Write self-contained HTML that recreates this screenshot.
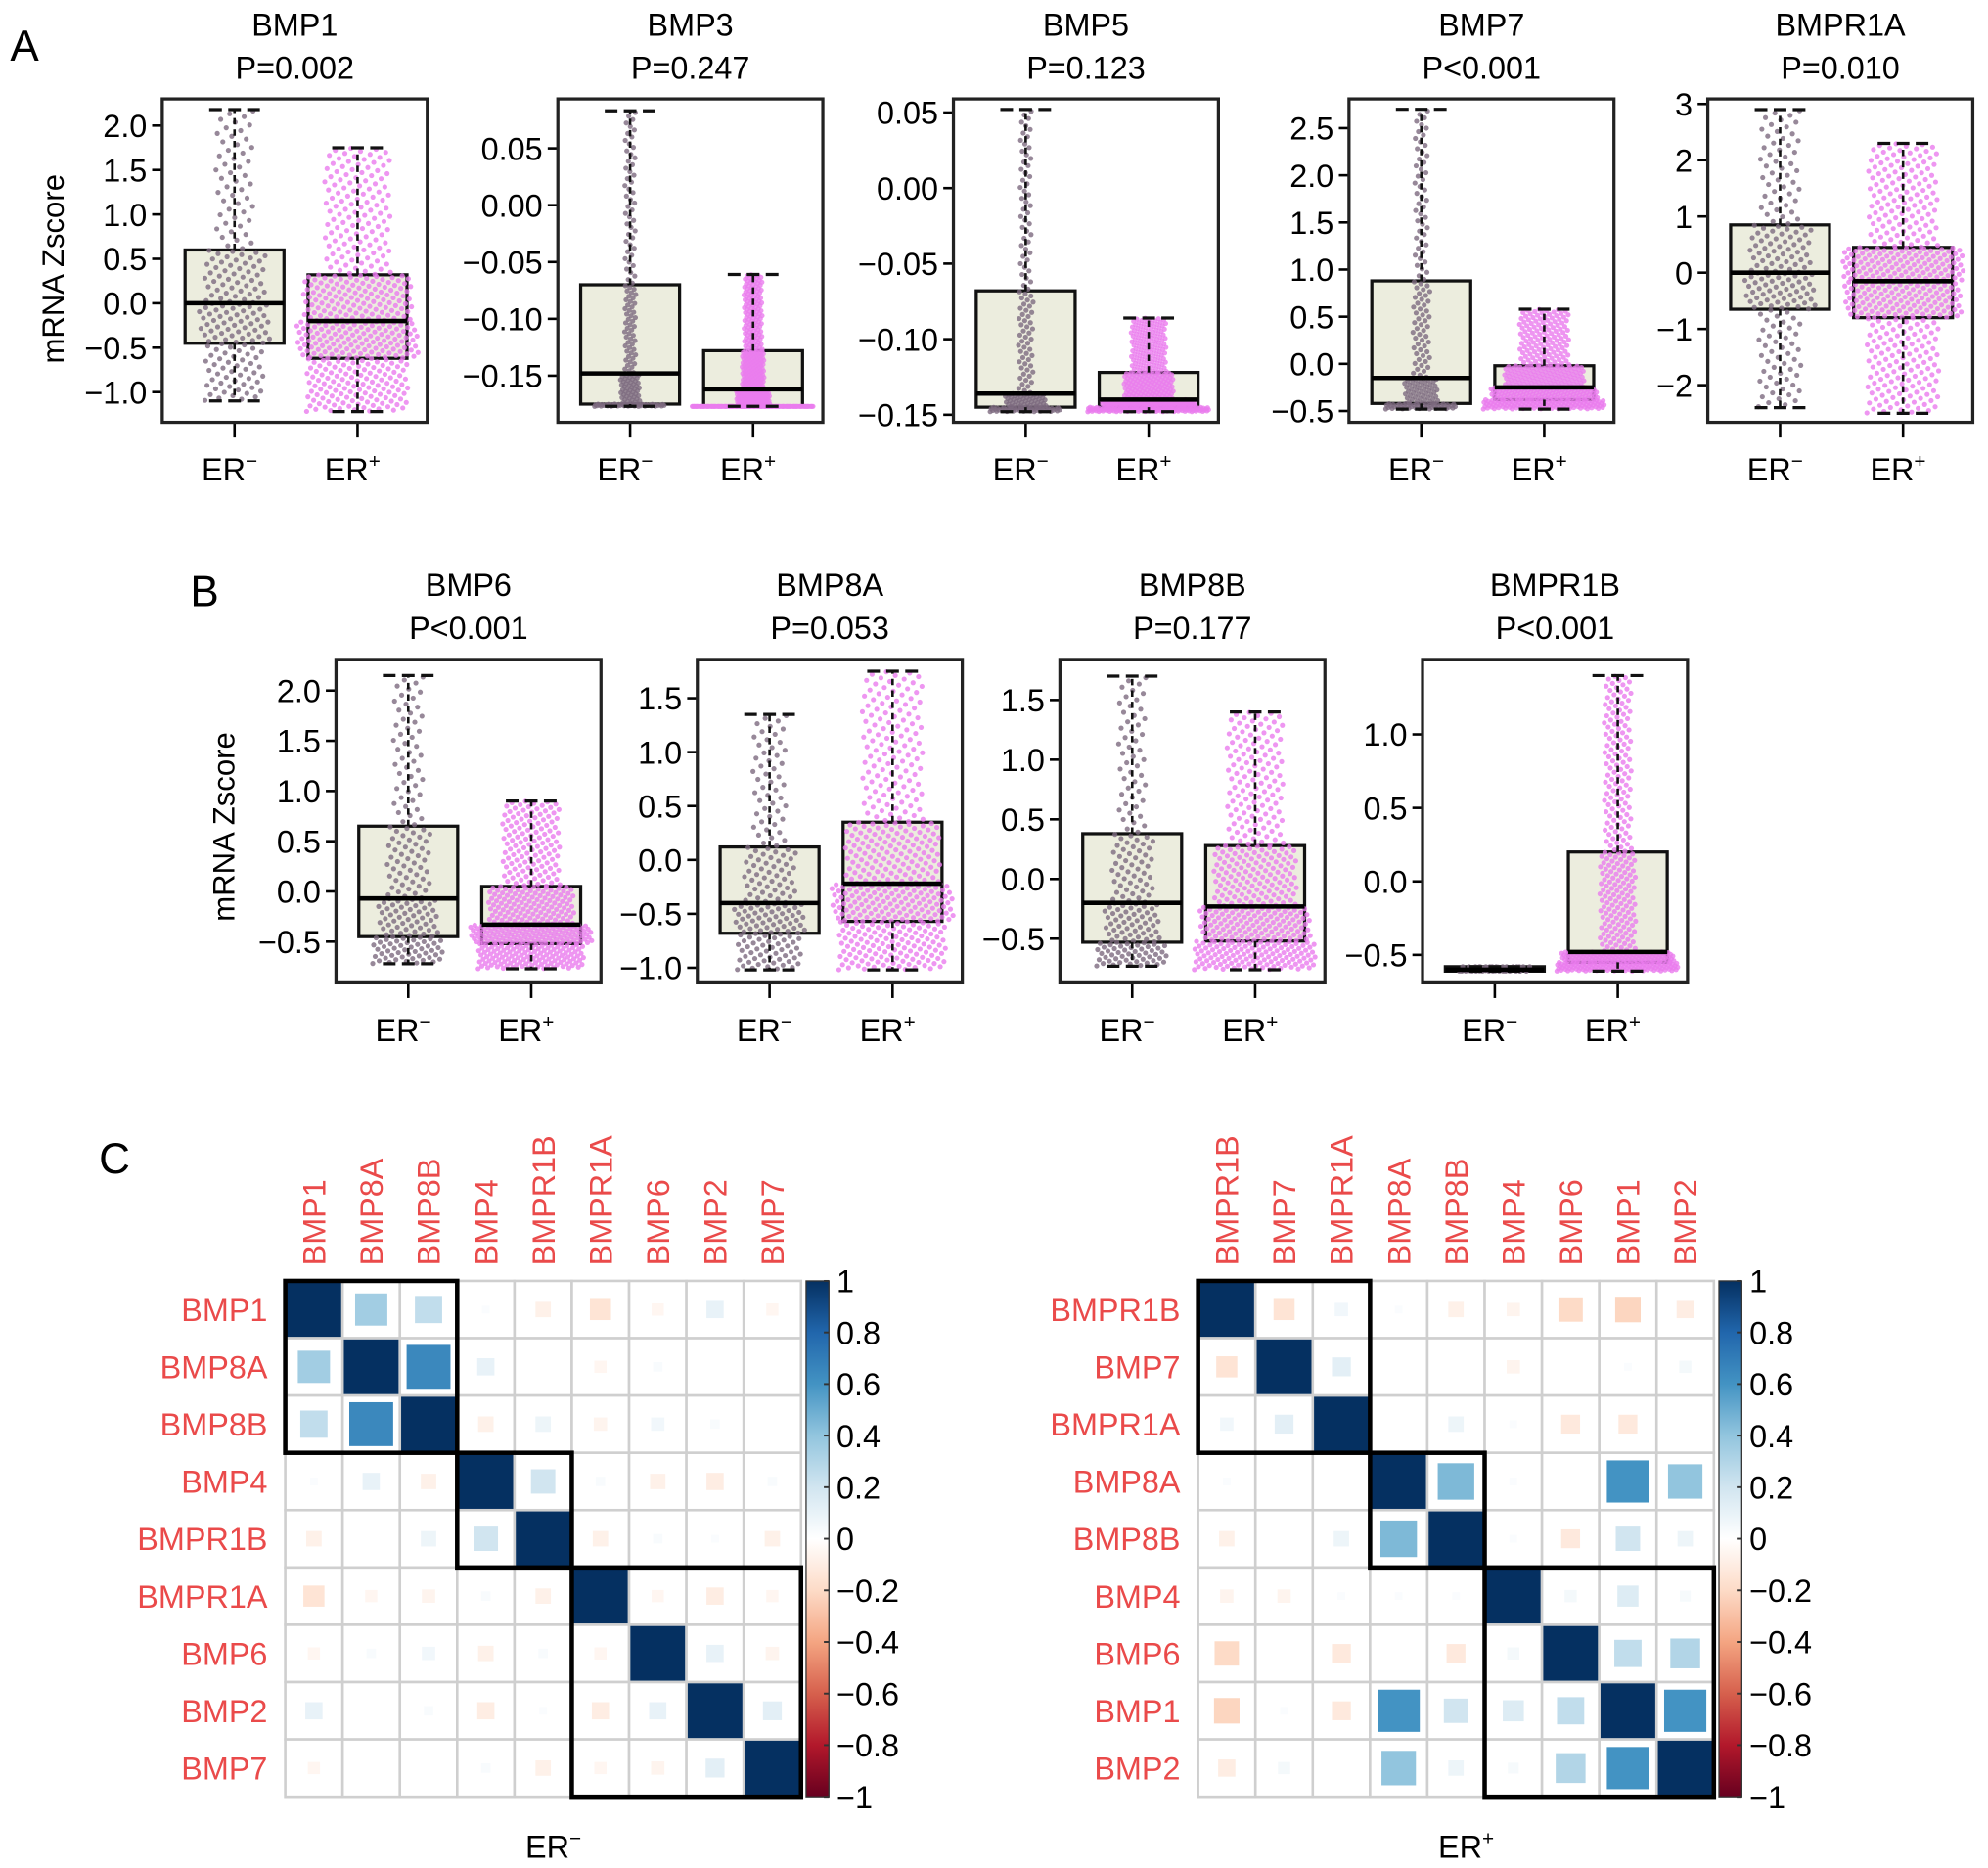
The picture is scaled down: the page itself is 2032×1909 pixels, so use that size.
<!DOCTYPE html>
<html><head><meta charset="utf-8"><style>
html,body{margin:0;padding:0;background:#fff;}
svg{display:block;font-family:"Liberation Sans",sans-serif;}
</style></head><body>
<svg id="fig" width="2032" height="1909" viewBox="0 0 1568 1473" preserveAspectRatio="none" xmlns="http://www.w3.org/2000/svg">
<rect x="0" y="0" width="1568" height="1473" fill="#fff"/>
<text x="8" y="48" font-size="34">A</text>
<text x="150" y="478" font-size="34">B</text>
<text x="78" y="925" font-size="34">C</text>
<text transform="translate(50,212) rotate(-90)" text-anchor="middle" font-size="24">mRNA Zscore</text>
<text transform="translate(185,652) rotate(-90)" text-anchor="middle" font-size="24">mRNA Zscore</text>
<g id="plots"></g>
<g id="heat"></g>
</svg>
<script>
// ---------- Box plot data ----------
const boxGenes = ["BMP1","BMP3","BMP5","BMP7","BMPR1A","BMP6","BMP8A","BMP8B","BMPR1B"];
const boxPvals = ["P=0.002","P=0.247","P=0.123","P<0.001","P=0.010","P<0.001","P=0.053","P=0.177","P<0.001"];
// [lowWhisker, q1, median, q3, highWhisker]
const erNegStats = [
  [-1.1,-0.45,0.0,0.6,2.18],
  [-0.177,-0.175,-0.148,-0.07,0.083],
  [-0.148,-0.145,-0.136,-0.068,0.052],
  [-0.48,-0.42,-0.15,0.88,2.7],
  [-2.4,-0.65,0.0,0.85,2.9],
  [-0.72,-0.45,-0.07,0.65,2.15],
  [-1.02,-0.68,-0.4,0.12,1.35],
  [-0.73,-0.53,-0.2,0.38,1.7],
  [-0.61,-0.61,-0.6,-0.58,-0.58]
];
const erPosStats = [
  [-1.22,-0.62,-0.2,0.32,1.75],
  [-0.177,-0.177,-0.162,-0.128,-0.061],
  [-0.148,-0.145,-0.14,-0.122,-0.086],
  [-0.48,-0.38,-0.25,-0.02,0.58],
  [-2.5,-0.8,-0.15,0.45,2.3],
  [-0.77,-0.52,-0.33,0.05,0.9],
  [-1.02,-0.57,-0.22,0.35,1.75],
  [-0.76,-0.52,-0.23,0.28,1.4],
  [-0.61,-0.55,-0.48,0.2,1.4]
];
const yDomainMin = [-1.34,-0.191,-0.155,-0.62,-2.66,-0.91,-1.14,-0.87,-0.69];
const yDomainMax = [2.3,0.0935,0.059,2.81,3.09,2.31,1.86,1.84,1.51];
const yTicks = [
  [-1.0,-0.5,0.0,0.5,1.0,1.5,2.0],
  [-0.15,-0.10,-0.05,0.00,0.05],
  [-0.15,-0.10,-0.05,0.00,0.05],
  [-0.5,0.0,0.5,1.0,1.5,2.0,2.5],
  [-2,-1,0,1,2,3],
  [-0.5,0.0,0.5,1.0,1.5,2.0],
  [-1.0,-0.5,0.0,0.5,1.0,1.5],
  [-0.5,0.0,0.5,1.0,1.5],
  [-0.5,0.0,0.5,1.0]
];
const tickDecimals = [1,2,2,1,0,1,1,1,1];
const pointCounts = [[200,500],[200,500],[200,500],[200,500],[200,500],[200,500],[200,500],[200,500],[60,500]];

// layout
const frameX = [128,440,752,1064,1347,265,550,836,1122];
const frameTop = [78,78,78,78,78,520,520,520,520];
const frameW = 209, frameH = 255;

const NS = "http://www.w3.org/2000/svg";
function mk(tag, attrs, parent){const e=document.createElementNS(NS,tag);for(const k in attrs)e.setAttribute(k,attrs[k]);parent.appendChild(e);return e;}
const plots = document.getElementById('plots');

function quantVal(st,p){const ps=[0,0.25,0.5,0.75,1];for(let i=0;i<4;i++){if(p<=ps[i+1]){const t=(p-ps[i])/(ps[i+1]-ps[i]);return [st[i]+t*(st[i+1]-st[i]),i];}}return [st[4],3];}

boxGenes.forEach((g,k)=>{
  const fx=frameX[k], ft=frameTop[k];
  const y = v => ft + (yDomainMax[k]-v)/(yDomainMax[k]-yDomainMin[k])*frameH;
  const grp = mk('g',{},plots);
  
  
  const cx = fx+frameW/2;
  const t1 = mk('text',{x:cx,y:ft-50,'text-anchor':'middle','font-size':25},grp); t1.textContent=g;
   
  const t2 = mk('text',{x:cx,y:ft-16,'text-anchor':'middle','font-size':25},grp); t2.textContent=boxPvals[k];
   
  yTicks[k].forEach(v=>{
    const yy=y(v);
    mk('line',{x1:fx-8,x2:fx,y1:yy,y2:yy,stroke:'#000','stroke-width':2},grp);
    const tl=mk('text',{x:fx-12,y:yy+9,'text-anchor':'end','font-size':25},grp);
    tl.textContent=(v<0?'\u2212':'')+Math.abs(v).toFixed(tickDecimals[k]);
     
  });
  const centers=[fx+57,fx+154];
  const stats=[erNegStats[k],erPosStats[k]];
  const colors=['#7d6a80','#ea7ced'];
  stats.forEach((st,j)=>{
    const c=centers[j];
    const bw=78;
    const b=mk('rect',{x:c-bw/2,y:y(st[3]),width:bw,height:Math.max(1,y(st[1])-y(st[3])),fill:'#ecedde',stroke:'#111','stroke-width':2.5},grp);
     
    // density-scaled widths per quartile segment (pixel span based)
    const spans=[0,1,2,3].map(i=>Math.max(1,y(st[i])-y(st[i+1])));
    const minSpan=Math.min(...spans);
    const n=pointCounts[k][j];
    for(let i=0;i<n;i++){
      const p=(i+0.5)/n;
      const qv=quantVal(st,p);
      const dens=Math.sqrt(minSpan/spans[qv[1]]);
      const jit=((i*0.6180339887)%1)-0.5;
      const w=(j?96:56)*Math.max(0.15,dens);
      mk('circle',{cx:c+jit*w,cy:y(qv[0]),r:2,fill:colors[j],opacity:0.8},grp);
    }
    mk('line',{x1:c,x2:c,y1:y(st[3]),y2:y(st[4]),stroke:'#111','stroke-width':2,'stroke-dasharray':'5,4'},grp);
    mk('line',{x1:c,x2:c,y1:y(st[1]),y2:y(st[0]),stroke:'#111','stroke-width':2,'stroke-dasharray':'5,4'},grp);
    mk('line',{x1:c-20,x2:c+20,y1:y(st[4]),y2:y(st[4]),stroke:'#111','stroke-width':2.5,'stroke-dasharray':'10,5'},grp);
    mk('line',{x1:c-20,x2:c+20,y1:y(st[0]),y2:y(st[0]),stroke:'#111','stroke-width':2.5,'stroke-dasharray':'10,5'},grp);
    mk('line',{x1:c-bw/2,x2:c+bw/2,y1:y(st[2]),y2:y(st[2]),stroke:'#000','stroke-width':3.5},grp);
    mk('line',{x1:c,x2:c,y1:ft+frameH,y2:ft+frameH+12,stroke:'#000','stroke-width':2},grp);
    const xl=mk('text',{x:c-4,y:ft+frameH+46,'text-anchor':'middle','font-size':25},grp);
    xl.innerHTML='ER<tspan dy="-10" font-size="16">'+(j?'+':'\u2212')+'</tspan>';
     
  });
  const fr=mk('rect',{x:fx,y:ft,width:frameW,height:frameH,fill:'none',stroke:'#222','stroke-width':2.5},grp);
   
});

// ---------- Correlation heatmaps ----------
const leftGenes = ["BMP1","BMP8A","BMP8B","BMP4","BMPR1B","BMPR1A","BMP6","BMP2","BMP7"];
const leftCorr = [
  [1,0.35,0.25,0.02,-0.08,-0.15,-0.05,0.1,-0.05],
  [0.35,1,0.65,0.1,0,-0.05,0.03,0,0],
  [0.25,0.65,1,-0.08,0.08,-0.06,0.06,0.03,0],
  [0.02,0.1,-0.08,1,0.2,0.03,-0.08,-0.1,0.03],
  [-0.08,0,0.08,0.2,1,-0.08,0.03,0.02,-0.08],
  [-0.15,-0.05,-0.06,0.03,-0.08,1,-0.05,-0.1,-0.05],
  [-0.05,0.03,0.06,-0.08,0.03,-0.05,1,0.1,-0.06],
  [0.1,0,0.03,-0.1,0.02,-0.1,0.1,1,0.12],
  [-0.05,0,0,0.03,-0.08,-0.05,-0.06,0.12,1]
];
const leftClusters = [[0,2],[3,4],[5,8]];
const rightGenes = ["BMPR1B","BMP7","BMPR1A","BMP8A","BMP8B","BMP4","BMP6","BMP1","BMP2"];
const rightCorr = [
  [1,-0.15,0.06,0.02,-0.08,-0.06,-0.2,-0.22,-0.1],
  [-0.15,1,0.12,0,0,-0.06,0,0.02,0.05],
  [0.06,0.12,1,0,0.08,0.02,-0.12,-0.12,0],
  [0.02,0,0,1,0.45,0.02,0,0.6,0.4],
  [-0.08,0,0.08,0.45,1,0.02,-0.12,0.2,0.08],
  [-0.06,-0.06,0.02,0.02,0.02,1,0.05,0.15,0.04],
  [-0.2,0,-0.12,0,-0.12,0.05,1,0.25,0.3],
  [-0.22,0.02,-0.12,0.6,0.2,0.15,0.25,1,0.6],
  [-0.1,0.05,0,0.4,0.08,0.04,0.3,0.6,1]
];
const rightClusters = [[0,2],[3,4],[5,8]];
const cbTicks = [1,0.8,0.6,0.4,0.2,0,-0.2,-0.4,-0.6,-0.8,-1];
const rdbu = ['#67001f','#b2182b','#d6604d','#f4a582','#fddbc7','#ffffff','#d1e5f0','#92c5de','#4393c3','#2166ac','#053061'];

function colorOf(v){
  const t=(v+1)/2*10; const i=Math.min(9,Math.floor(t)); const f=t-i;
  const a=rdbu[i], b=rdbu[i+1];
  const h=(s,o)=>parseInt(s.substr(o,2),16);
  const c=[1,3,5].map(o=>Math.round(h(a,o)+(h(b,o)-h(a,o))*f));
  return 'rgb('+c.join(',')+')';
}
const heat=document.getElementById('heat');
function drawHeat(genes,corr,clusters,gx,label,name){
  const gy=1010, cell=45.2, n=genes.length;
  const g=mk('g',{},heat);
   
  for(let r=0;r<n;r++)for(let c=0;c<n;c++){
    const v=corr[r][c];
    const x0=gx+c*cell, y0=gy+r*cell;
    mk('rect',{x:x0,y:y0,width:cell,height:cell,fill:'#fff',stroke:'#cfcfcf','stroke-width':2},g);
    const s=(r===c)?cell-2:Math.sqrt(Math.abs(v))*cell*0.95;
    const sq=mk('rect',{x:x0+(cell-s)/2,y:y0+(cell-s)/2,width:s,height:s,fill:colorOf(v)},g);
     
  }
  clusters.forEach(cl=>{
    mk('rect',{x:gx+cl[0]*cell,y:gy+cl[0]*cell,width:(cl[1]-cl[0]+1)*cell,height:(cl[1]-cl[0]+1)*cell,fill:'none',stroke:'#000','stroke-width':3.5},g);
  });
  genes.forEach((nm,i)=>{
    const rl=mk('text',{x:gx-14,y:gy+i*cell+cell/2+9,'text-anchor':'end','font-size':25,fill:'#ea4a4a'},g);
    rl.textContent=nm;  
    const cx=gx+i*cell+cell/2+9;
    const cl=mk('text',{x:0,y:0,transform:'translate('+cx+','+(gy-12)+') rotate(-90)','font-size':25,fill:'#ea4a4a'},g);
    cl.textContent=nm;  
  });
  const bx=gx+n*cell+4, bw=18, bh=n*cell;
  const gid='grad'+name;
  const defs=mk('defs',{},g);
  const lg=mk('linearGradient',{id:gid,x1:0,y1:1,x2:0,y2:0},defs);
  rdbu.forEach((c,i)=>mk('stop',{offset:(i/10),'stop-color':c},lg));
  const cb=mk('rect',{x:bx,y:gy,width:bw,height:bh,fill:'url(#'+gid+')',stroke:'#333','stroke-width':1},g);
   
  cbTicks.forEach(v=>{
    const yy=gy+(1-v)/2*bh;
    mk('line',{x1:bx+bw-4,x2:bx+bw,y1:yy,y2:yy,stroke:'#333','stroke-width':1.5},g);
    const tl=mk('text',{x:bx+bw+6,y:yy+9,'font-size':25},g);
    tl.textContent=(v<0?'\u2212':'')+String(Math.abs(v));
     
  });
  const bl=mk('text',{x:gx+n*cell/2+8,y:gy+bh+48,'text-anchor':'middle','font-size':25},g);
  bl.innerHTML='ER<tspan dy="-10" font-size="16">'+label+'</tspan>';
   
}
drawHeat(leftGenes,leftCorr,leftClusters,225,'\u2212','heatmap-er-neg');
drawHeat(rightGenes,rightCorr,rightClusters,945,'+','heatmap-er-pos');
</script>
</body></html>
